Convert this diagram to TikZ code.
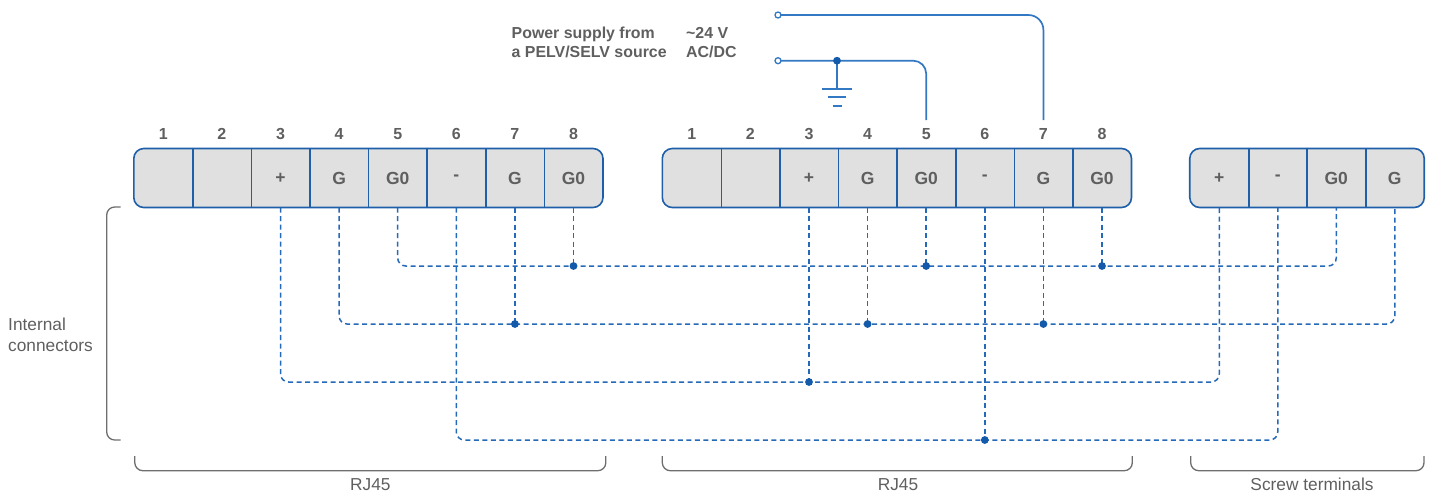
\documentclass[tikz,border=0pt]{standalone}
\usepackage{fontspec}
\setmainfont{Liberation Sans}
\usetikzlibrary{backgrounds,calc}
\definecolor{boxc}{RGB}{31,95,170}
\definecolor{boxfill}{RGB}{224,224,224}
\definecolor{dashc}{RGB}{37,105,185}
\definecolor{dotc}{RGB}{20,90,170}
\definecolor{pwc}{RGB}{50,120,195}
\definecolor{txt}{RGB}{95,95,95}
\definecolor{brc}{RGB}{110,110,110}
\tikzset{
  cell/.style={minimum width=58.6pt, minimum height=58.6pt, inner sep=0pt,
    font=\fontsize{17.5}{20}\selectfont\bfseries, text=txt},
  num/.style={font=\fontsize{16}{19}\selectfont\bfseries, text=txt, inner sep=0pt},
  dl/.style={draw=dashc, line width=1.5pt, dash pattern=on 5pt off 3.5pt, rounded corners=8pt},
  jdot/.style={fill=dotc},
  pw/.style={draw=pwc, line width=1.7pt},
  brk/.style={draw=brc, line width=1.3pt, rounded corners=8pt},
  lbl/.style={font=\fontsize{17.3}{21}\selectfont, text=txt, inner sep=0pt},
  title/.style={font=\fontsize{15.9}{19}\selectfont\bfseries, text=txt, inner sep=0pt, align=left, anchor=west},
  boxframe/.style={draw=boxc, fill=boxfill, line width=1.6pt, rounded corners=10pt},
  divider/.style={draw=boxc, line width=1.6pt}
}
\begin{document}
\begin{tikzpicture}[x=1pt,y=-1pt]
\useasboundingbox (0,0) rectangle (1435,493);

% cells
\foreach \i/\t in {1/,2/,3/+,4/G,5/G0,6/-,7/G,8/G0}{
  \node[cell] (a\i) at ({134+58.6*(\i-0.5)},178) {\t};
  \node[num] (na\i) at ({134+58.6*(\i-0.5)},134) {\i};
  \node[cell] (b\i) at ({662.5+58.6*(\i-0.5)},178) {\t};
  \node[num] (nb\i) at ({662.5+58.6*(\i-0.5)},134) {\i};
}
\foreach \i/\t in {1/+,2/-,3/G0,4/G}{
  \node[cell] (c\i) at ({1190+58.5*(\i-0.5)},178) {\t};
}
\begin{scope}[on background layer]
  \draw[boxframe] (a1.south west) rectangle (a8.north east);
  \draw[boxframe] (b1.south west) rectangle (b8.north east);
  \draw[boxframe] (c1.south west) rectangle (c4.north east);
\end{scope}
\foreach \i in {1,...,7}{
  \draw[divider] (a\i.north east) -- (a\i.south east);
  \draw[divider] (b\i.north east) -- (b\i.south east);
}
\foreach \i in {1,...,3}{
  \draw[divider] (c\i.north east) -- (c\i.south east);
}

% internal connector levels
\coordinate (yG0) at (0,266);
\coordinate (yG) at (0,324);
\coordinate (yP) at (0,382);
\coordinate (yM) at (0,440);

% G0 line
\draw[dl] (a5.south) -- (a5.south |- yG0) -- (c3.south |- yG0) -- (c3.south);
\foreach \n in {a8,b5,b8}{
  \coordinate (j\n) at (\n.south |- yG0);
  \draw[dl] (\n.south) -- (j\n);
  \fill[jdot] (j\n) circle (3.9);
}
% G line
\draw[dl] (a4.south) -- (a4.south |- yG) -- (c4.south |- yG) -- (c4.south);
\foreach \n in {a7,b4,b7}{
  \coordinate (j\n) at (\n.south |- yG);
  \draw[dl] (\n.south) -- (j\n);
  \fill[jdot] (j\n) circle (3.9);
}
% + line
\draw[dl] (a3.south) -- (a3.south |- yP) -- (c1.south |- yP) -- (c1.south);
\coordinate (jb3) at (b3.south |- yP);
\draw[dl] (b3.south) -- (jb3);
\fill[jdot] (jb3) circle (3.9);
% - line
\draw[dl] (a6.south) -- (a6.south |- yM) -- (c2.south |- yM) -- (c2.south);
\coordinate (jb6) at (b6.south |- yM);
\draw[dl] (b6.south) -- (jb6);
\fill[jdot] (jb6) circle (3.9);

% power supply
\coordinate (t1) at (778,15);
\coordinate (t2) at (778,60.7);
\coordinate (e7) at (nb7.north |- 0,120);
\coordinate (e5) at (nb5.north |- 0,120);
\coordinate (gnd) at (837,60.7);
\coordinate (gb) at (837,89.3);
\draw[pw, rounded corners=15pt] (t1) -- (e7 |- t1) -- (e7);
\draw[pw, rounded corners=13pt] (t2) -- (e5 |- t2) -- (e5);
\draw[pw] (gnd) -- (gb);
\draw[pw] ($(gb)+(-15,0)$) -- ($(gb)+(15,0)$);
\draw[pw] ($(gb)+(-9,8)$) -- ($(gb)+(9,8)$);
\draw[pw] ($(gb)+(-4.5,16.7)$) -- ($(gb)+(4.5,16.7)$);
\fill[jdot] (gnd) circle (3.9);
\draw[pw, line width=1.3pt, fill=white] (t1) circle (3);
\draw[pw, line width=1.3pt, fill=white] (t2) circle (3);

\node[title] (ps) at (511.5,42.8) {Power supply from\\a PELV/SELV source};
\node[title] (volt) at (686,42.8) {\textasciitilde24 V\\AC/DC};

% brackets
\coordinate (lb1) at (120.7,207);
\coordinate (lb2) at (120.7,440);
\draw[brk] (lb1) -- (106.7,207) -- (106.7,440) -- (lb2);
\node[lbl, align=left, anchor=west] (ic) at (8,334.5) {Internal\\connectors};

\draw[brk] (134.8,456) -- (134.8,470.7) -- (605.8,470.7) -- (605.8,456);
\draw[brk] (662.3,456) -- (662.3,470.7) -- (1132.3,470.7) -- (1132.3,456);
\draw[brk] (1190.7,456) -- (1190.7,470.7) -- (1424,470.7) -- (1424,456);
\node[lbl] (r1) at (370.3,484.5) {RJ45};
\node[lbl] (r2) at (898,484.5) {RJ45};
\node[lbl] (st) at (1312,484.5) {Screw terminals};
\end{tikzpicture}
\end{document}
